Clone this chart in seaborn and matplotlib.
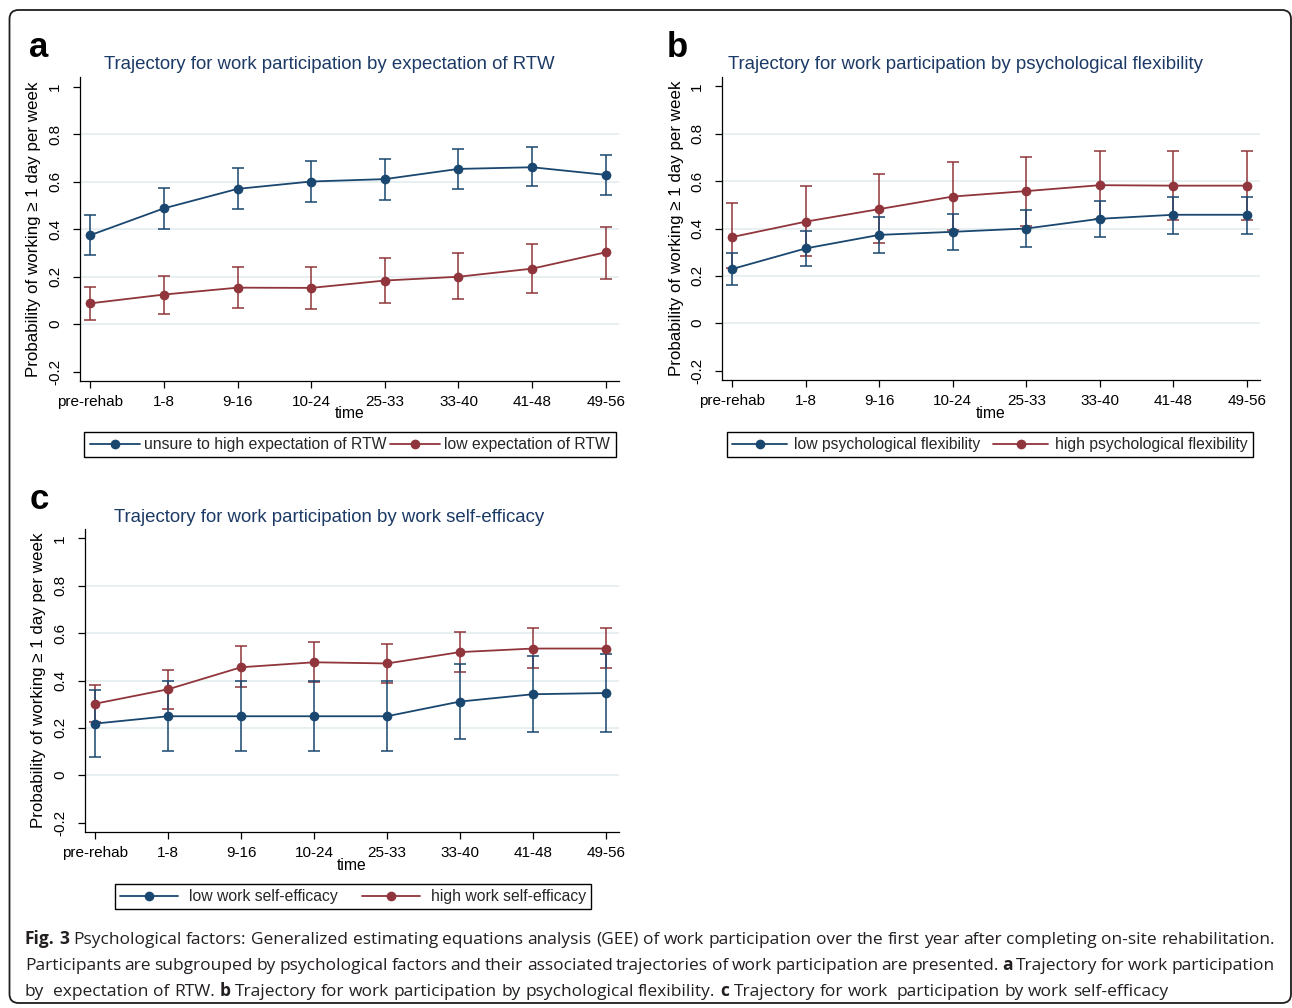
import matplotlib
matplotlib.use('Agg')
import numpy as np
import pandas as pd
import seaborn as sns
import matplotlib.pyplot as plt
from matplotlib.lines import Line2D
from matplotlib.patches import FancyBboxPatch
from matplotlib.transforms import IdentityTransform

# ---- data ----
time_labels = ['pre-rehab', '1-8', '9-16', '10-24', '25-33', '33-40', '41-48', '49-56']
yticks = [-0.2, 0, 0.2, 0.4, 0.6, 0.8, 1]
ytick_labels = ['-0.2', '0', '0.2', '0.4', '0.6', '0.8', '1']

# a: expectation of RTW
a_high = [0.374, 0.487, 0.569, 0.600, 0.610, 0.653, 0.660, 0.628]
a_high_lo = [0.289, 0.399, 0.483, 0.514, 0.522, 0.569, 0.579, 0.544]
a_high_hi = [0.459, 0.574, 0.657, 0.687, 0.695, 0.736, 0.744, 0.713]
a_low = [0.087, 0.124, 0.153, 0.152, 0.183, 0.199, 0.233, 0.302]
a_low_lo = [0.017, 0.042, 0.067, 0.065, 0.090, 0.104, 0.129, 0.190]
a_low_hi = [0.154, 0.204, 0.240, 0.239, 0.277, 0.298, 0.336, 0.410]

# b: psychological flexibility
b_low = [0.229, 0.316, 0.373, 0.386, 0.400, 0.441, 0.458, 0.458]
b_low_lo = [0.162, 0.242, 0.295, 0.308, 0.323, 0.363, 0.377, 0.377]
b_low_hi = [0.297, 0.390, 0.449, 0.463, 0.479, 0.518, 0.535, 0.535]
b_high = [0.364, 0.429, 0.482, 0.535, 0.558, 0.583, 0.581, 0.581]
b_high_lo = [0.235, 0.282, 0.338, 0.392, 0.412, 0.440, 0.438, 0.438]
b_high_hi = [0.507, 0.578, 0.630, 0.681, 0.703, 0.726, 0.726, 0.726]

# c: work self-efficacy
c_low = [0.218, 0.249, 0.249, 0.249, 0.249, 0.311, 0.342, 0.347]
c_low_lo = [0.078, 0.103, 0.103, 0.103, 0.103, 0.154, 0.182, 0.184]
c_low_hi = [0.360, 0.397, 0.397, 0.397, 0.397, 0.469, 0.504, 0.511]
c_high = [0.302, 0.363, 0.456, 0.477, 0.472, 0.520, 0.535, 0.535]
c_high_lo = [0.225, 0.280, 0.374, 0.394, 0.388, 0.434, 0.452, 0.452]
c_high_hi = [0.380, 0.445, 0.544, 0.562, 0.556, 0.605, 0.623, 0.623]

titles = ['Trajectory for work participation by expectation of RTW',
          'Trajectory for work participation by psychological flexibility',
          'Trajectory for work participation by work self-efficacy']
legend_labels = [['unsure to high expectation of RTW', 'low expectation of RTW'],
                 ['low psychological flexibility', 'high psychological flexibility'],
                 ['low work self-efficacy', 'high work self-efficacy']]
ylab = 'Probability of working \u2265 1 day per week'

caption = [
    [('Fig. 3', True), ('Psychological factors: Generalized estimating equations analysis (GEE) of work '
                        'participation over the first year after completing on-site rehabilitation.', False)],
    [('Participants are subgrouped by psychological factors and their associated trajectories of work '
      'participation are presented.', False), ('a', True), ('Trajectory for work participation', False)],
    [('by  expectation of RTW.', False), ('b', True),
     ('Trajectory for work participation by psychological flexibility.', False), ('c', True),
     ('Trajectory for work  participation by work self-efficacy', False)],
]

NAVY = '#1a476f'
MAROON = '#90353b'
TITLE_C = '#1c3a66'
GRID_C = '#e5eef0'

sns.set_theme(style='white')
plt.rcParams['font.family'] = ['Liberation Sans', 'DejaVu Sans']
plt.rcParams['axes.unicode_minus'] = False

W, H = 1292, 1008
fig = plt.figure(figsize=(W / 100, H / 100), dpi=100)


def fx(x):
    return x / W


def fy(y):
    return 1 - y / H


# panel geometry in pixels: left, top, right, bottom of axes
panels = [
    dict(letter='a', box=(80, 77, 619, 381), series=[(a_high, a_high_lo, a_high_hi), (a_low, a_low_lo, a_low_hi)],
         letter_xy=(39, 57), title_xy=(329, 69), legend_xy=(350, 444.5), lg=(0.25, 0.25, 3.2)),
    dict(letter='b', box=(722, 77, 1260, 380), series=[(b_low, b_low_lo, b_low_hi), (b_high, b_high_lo, b_high_hi)],
         letter_xy=(677, 57), title_xy=(966, 69), legend_xy=(990, 444.5), lg=(0.45, 0.8, 3.5)),
    dict(letter='c', box=(85, 529, 619, 832), series=[(c_low, c_low_lo, c_low_hi), (c_high, c_high_lo, c_high_hi)],
         letter_xy=(39, 509), title_xy=(329, 521.5), legend_xy=(353, 896.5), lg=(0.65, 1.6, 3.7)),
]

colors = [NAVY, MAROON]
x_idx = list(range(len(time_labels)))

for i, p in enumerate(panels):
    l, t, r, b = p['box']
    ax = fig.add_axes([fx(l), fy(b), (r - l) / W, (b - t) / H])
    labs = legend_labels[i]

    df = pd.DataFrame({
        'time': x_idx * 2,
        'prob': list(p['series'][0][0]) + list(p['series'][1][0]),
        'group': [labs[0]] * 8 + [labs[1]] * 8,
    })

    # confidence intervals
    for (mid, lo, hi), col in reversed(list(zip(p['series'], colors))):
        mid = np.array(mid)
        ax.errorbar(x_idx, mid, yerr=[mid - np.array(lo), np.array(hi) - mid], fmt='none',
                    ecolor=col, elinewidth=1.1, capsize=4.5, capthick=1.1, zorder=2)

    sns.lineplot(data=df, x='time', y='prob', hue='group', hue_order=labs, palette=colors,
                 marker='o', markersize=7, markeredgewidth=0, linewidth=1.3,
                 legend=False, ax=ax, zorder=3)

    ax.set_xlim(-0.14, 7.18)
    ax.set_ylim(-0.24, 1.04)
    ax.set_xticks(x_idx)
    ax.set_xticklabels(time_labels, fontsize=11)
    ax.set_yticks(yticks)
    ax.set_yticklabels(ytick_labels, fontsize=11)
    for lab in ax.get_yticklabels():
        lab.set_rotation(90)
        lab.set_va('center')
        lab.set_ha('right')
    ax.set_xlabel('')
    ax.set_ylabel('')
    ax.tick_params(axis='both', direction='out', length=5, width=0.9, color='black',
                   labelcolor='black', bottom=True, left=True)
    ax.tick_params(axis='x', pad=5)
    ax.tick_params(axis='y', pad=8)
    ax.yaxis.grid(True, color=GRID_C, linewidth=1.3)
    grid = ax.get_ygridlines()
    grid[0].set_visible(False)
    grid[-1].set_visible(False)
    ax.xaxis.grid(False)
    ax.set_axisbelow(True)
    for s in ['top', 'right']:
        ax.spines[s].set_visible(False)
    for s in ['left', 'bottom']:
        ax.spines[s].set_color('black')
        ax.spines[s].set_linewidth(0.9)

    # y label, x label, title, panel letter
    fig.text(fx(l - 46), fy((t + b) / 2), ylab, rotation=90, ha='center', va='center', fontsize=12.2, color='black')
    fig.text(fx((l + r) / 2), fy(b + 33), 'time', ha='center', va='center', fontsize=11.3, color='black')
    fig.text(fx(p['title_xy'][0]), fy(p['title_xy'][1]), titles[i], ha='center', va='baseline',
             fontsize=13.4, color=TITLE_C)
    fig.text(fx(p['letter_xy'][0]), fy(p['letter_xy'][1]), p['letter'], ha='center', va='baseline',
             fontsize=25, fontweight='bold', color='black')

    handles = [Line2D([0], [0], color=c, lw=1.3, marker='o', markersize=7, markeredgewidth=0) for c in colors]
    tp, cs, hl = p['lg']
    lg = ax.legend(handles, labs, loc='center', bbox_to_anchor=(fx(p['legend_xy'][0]), fy(p['legend_xy'][1])),
                   bbox_transform=fig.transFigure, ncol=2, fontsize=11.3, frameon=True, fancybox=False,
                   edgecolor='black', framealpha=1, handlelength=hl, handletextpad=tp, columnspacing=cs,
                   borderpad=0.35)
    lg.get_frame().set_linewidth(1.0)

# ---- caption ----
renderer = fig.canvas.get_renderer()
cap_font = 'Open Sans'
cap_left, cap_right = 25, 1275
cap_base = [943.5, 969.5, 996]


def make_words(line):
    words = []
    for text, bold in line:
        for w in text.split(' '):
            words.append((w, bold))
    return words


def measure(text, size, bold=False):
    tt = fig.text(0, 0, text, fontsize=size, family=cap_font, fontweight='bold' if bold else 'normal')
    wdt = tt.get_window_extent(renderer).width if text else 0.0
    tt.remove()
    return wdt


def natural_width(words, size):
    sp = measure('a a', size) - measure('aa', size)
    return sum(measure(w, size, b) for w, b in words) + sp * (len(words) - 1)


base_size = 13.0
nat = natural_width(make_words(caption[0]), base_size)
cap_size = base_size * (cap_right - cap_left - 8) / nat
space_w = measure('a a', cap_size) - measure('aa', cap_size)

for k, line in enumerate(caption):
    words = make_words(line)
    arts, widths = [], []
    for w, bld in words:
        tx = fig.text(0, fy(cap_base[k]), w, fontsize=cap_size, family=cap_font,
                      fontweight='bold' if bld else 'normal', ha='left', va='baseline', color='#231f20')
        arts.append(tx)
        widths.append(tx.get_window_extent(renderer).width if w else 0.0)
    if k < 2:
        gap = (cap_right - cap_left - sum(widths)) / (len(words) - 1)
    else:
        gap = space_w
    xx = cap_left
    for tx, wd in zip(arts, widths):
        tx.set_x(fx(xx))
        xx += wd + gap

# outer rounded frame
frame = FancyBboxPatch((9.5, H - 1003), 1281.5, 993, boxstyle='round,pad=0,rounding_size=9',
                       transform=IdentityTransform(), fill=False, edgecolor='#1e1e1e', linewidth=1.3)
fig.add_artist(frame)

fig.savefig('out.png', dpi=100)
